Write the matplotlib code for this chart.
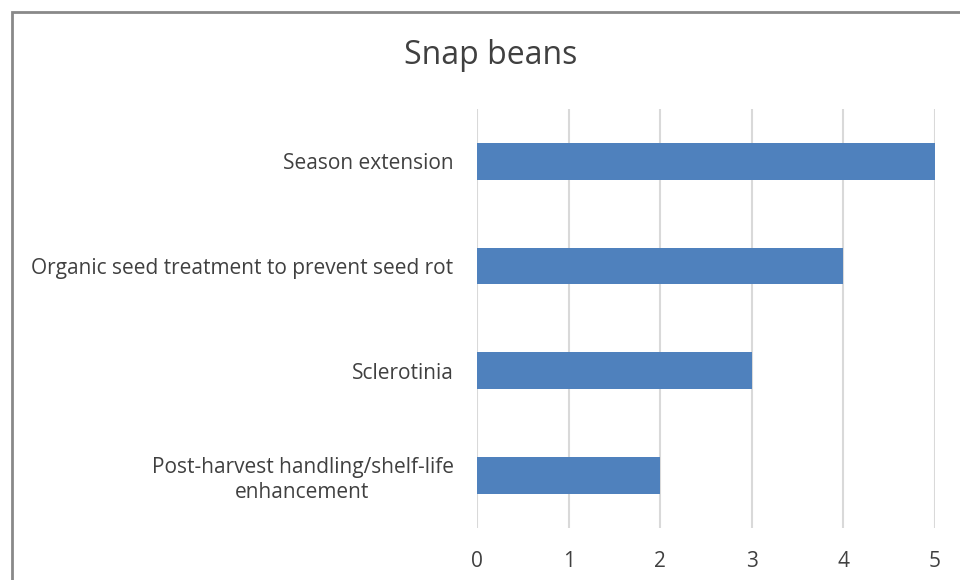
import matplotlib.pyplot as plt
from matplotlib.patches import Rectangle

# Ranked needs for snap beans
categories = ["Season extension",
              "Organic seed treatment to prevent seed rot",
              "Sclerotinia",
              "Post-harvest handling/shelf-life\nenhancement"]
scores = [5, 4, 3, 2]
x_ticks = [0, 1, 2, 3, 4, 5]

plt.rcParams['font.family'] = ['Open Sans', 'DejaVu Sans']
text_color = '#404040'

fig = plt.figure(figsize=(9.6, 5.8), dpi=100)
ax = fig.add_axes([0.497, 0.090, 0.477, 0.722])

# outer chart border (runs off the right and bottom edges)
fig.patches.append(Rectangle((11.5 / 960, -0.1), 1.2, 1 - 11.5 / 580 + 0.1,
                             transform=fig.transFigure, fill=False,
                             edgecolor='#898989', linewidth=2.0))

ypos = list(range(len(categories)))
ax.barh(ypos, scores, height=0.35, color='#4F81BD', zorder=3)
ax.set_ylim(len(categories) - 0.5, -0.5)
ax.set_xlim(0, 5)
ax.set_xticks(x_ticks)
ax.set_yticks(ypos)
ax.set_yticklabels(categories, multialignment='center', linespacing=1.25)

ax.grid(axis='x', color='#D9D9D9', linewidth=1.5, zorder=0)
for s in ax.spines.values():
    s.set_visible(False)
ax.tick_params(axis='both', length=0, labelsize=15, labelcolor=text_color)
ax.tick_params(axis='x', pad=17)
ax.tick_params(axis='y', pad=17)

fig.text(491 / 960, 1 - 55 / 580, "Snap beans", ha='center', va='center',
         fontsize=23, color=text_color)

fig.savefig("out.png", dpi=100)
